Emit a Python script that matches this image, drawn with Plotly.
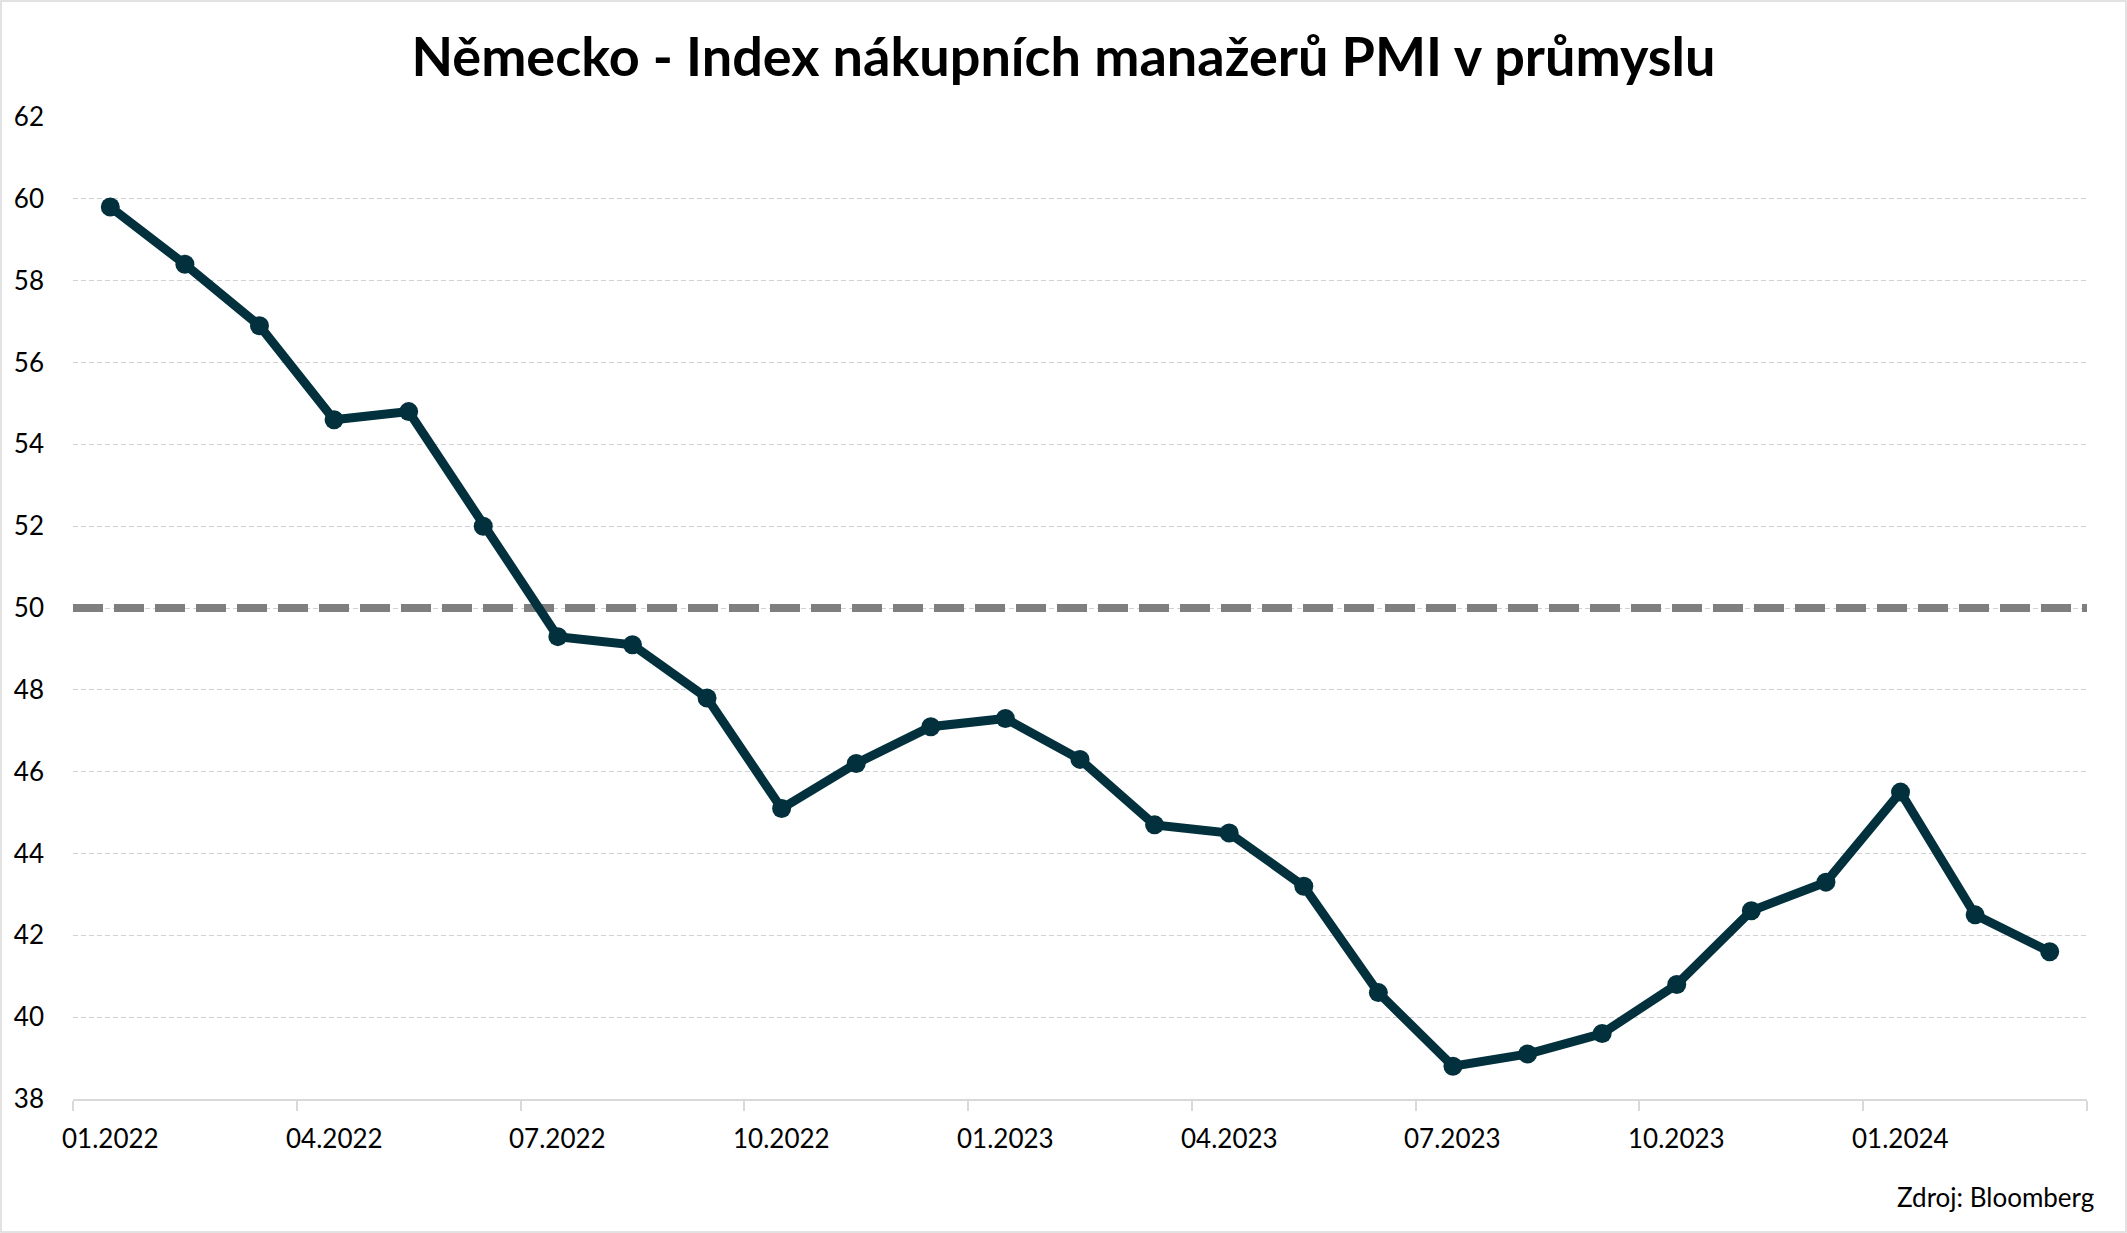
import plotly.graph_objects as go

# Německo - PMI v průmyslu, měsíční data 01.2022 - 03.2024
months = [
    "01.2022", "02.2022", "03.2022", "04.2022", "05.2022", "06.2022",
    "07.2022", "08.2022", "09.2022", "10.2022", "11.2022", "12.2022",
    "01.2023", "02.2023", "03.2023", "04.2023", "05.2023", "06.2023",
    "07.2023", "08.2023", "09.2023", "10.2023", "11.2023", "12.2023",
    "01.2024", "02.2024", "03.2024",
]
pmi = [
    59.8, 58.4, 56.9, 54.6, 54.8, 52.0,
    49.3, 49.1, 47.8, 45.1, 46.2, 47.1,
    47.3, 46.3, 44.7, 44.5, 43.2, 40.6,
    38.8, 39.1, 39.6, 40.8, 42.6, 43.3,
    45.5, 42.5, 41.6,
]
label_months = months[::3]
y_ticks = list(range(38, 63, 2))
threshold = 50

W, H = 2127, 1233
L, R, T, B = 73, 40, 117, 134
FONT = "Lato"
LINE_COL = "#02313d"

n = len(months)
idx = list(range(n))
x_range = [-0.5, n - 0.5]
pw = W - L - R
ph = H - T - B

fig = go.Figure()

# 50 = hranice expanze / kontrakce (pod hlavni carou, nad mrizkou)
fig.add_trace(go.Scatter(
    x=x_range, y=[threshold, threshold],
    mode="lines",
    line=dict(color="#7f7f7f", width=8, dash="30px,11px"),
    hoverinfo="skip",
    showlegend=False,
))

fig.add_trace(go.Scatter(
    x=idx, y=pmi,
    mode="lines+markers",
    line=dict(color=LINE_COL, width=9),
    marker=dict(size=19, color=LINE_COL),
    text=months,
    hovertemplate="%{text}: %{y}<extra></extra>",
    showlegend=False,
))

# tenky ramecek kolem celeho obrazku
fig.add_shape(
    type="rect", xref="paper", yref="paper",
    x0=(1 - L) / pw, x1=(W - 1 - L) / pw,
    y0=-(B - 1) / ph, y1=1 + (T - 1) / ph,
    line=dict(color="#d9d9d9", width=1.5),
)

# popisky osy x (prvni mesic kazdeho ctvrtleti)
for m in label_months:
    fig.add_annotation(
        text=m, x=months.index(m), xref="x",
        y=-(1138 - (H - B)) / ph, yref="paper",
        xanchor="center", yanchor="middle", showarrow=False,
        font=dict(family=FONT, size=26, color="#000000"),
    )

fig.add_annotation(
    text="Zdroj: Bloomberg",
    xref="paper", yref="paper",
    x=(2096 - L) / pw, y=-(1197 - (H - B)) / ph,
    xanchor="right", yanchor="middle",
    showarrow=False,
    font=dict(family=FONT, size=26, color="#000000"),
)

fig.update_layout(
    width=W, height=H,
    margin=dict(l=L, r=R, t=T, b=B),
    paper_bgcolor="white",
    plot_bgcolor="white",
    title=dict(
        text="<b>Německo - Index nákupních manažerů PMI v průmyslu</b>",
        x=0.5, xanchor="center",
        y=1 - 57 / H, yanchor="middle",
        font=dict(family=FONT, size=54, color="#000000"),
    ),
    xaxis=dict(
        range=x_range,
        tickmode="linear", tick0=-0.5, dtick=3,
        ticks="outside", ticklen=10, tickwidth=2, tickcolor="#d9d9d9",
        showticklabels=False, showgrid=False, zeroline=False,
        showline=True, linecolor="#d9d9d9", linewidth=2,
    ),
    yaxis=dict(
        range=[38, 62],
        tickmode="array", tickvals=y_ticks,
        showgrid=True, gridcolor="#d0d0d0", gridwidth=1.3, griddash="5px,3px",
        zeroline=False, showline=False, ticks="",
        ticklabelstandoff=28,
        tickfont=dict(family=FONT, size=26, color="#000000"),
    ),
)

fig.write_html(
    "out.html",
    config={"displayModeBar": False},
    post_script="document.body.style.margin='0';",
)
